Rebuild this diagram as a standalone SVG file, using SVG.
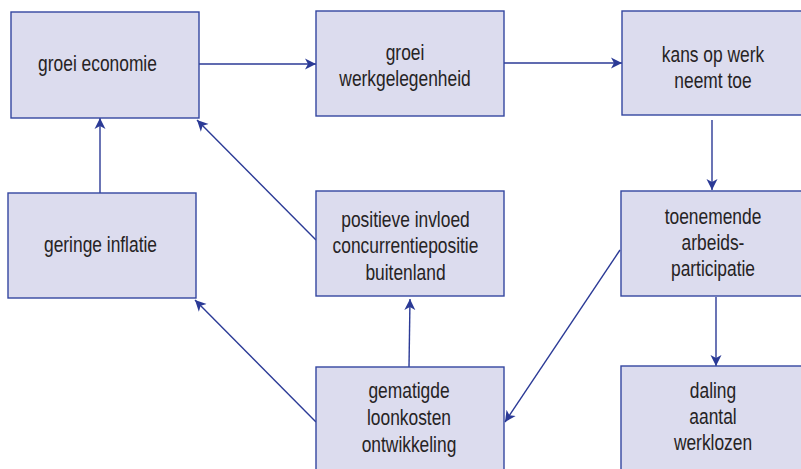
<svg xmlns="http://www.w3.org/2000/svg" width="801" height="469" viewBox="0 0 801 469">
<defs>
<style>
.box{fill:#dcdcee;stroke:#3446a0;stroke-width:1.4}
.lbl{font-family:"Liberation Sans",Arial,sans-serif;font-size:22px;fill:#262324;text-anchor:middle}
.con{stroke:#2b3a96;stroke-width:1.4;fill:none;marker-end:url(#ah)}
</style>
<marker id="ah" viewBox="0 0 12 12" refX="11" refY="6" markerWidth="12" markerHeight="12" markerUnits="userSpaceOnUse" orient="auto">
<path d="M0,0.5 L11,6 L0,11.5 L3,6 z" fill="#2b3a96"/>
</marker>
</defs>
<rect width="801" height="469" fill="#ffffff"/>
<g id="connectors">
<line class="con" x1="199" y1="64" x2="316" y2="64"/>
<line class="con" x1="504" y1="63" x2="622" y2="63"/>
<line class="con" x1="712" y1="120" x2="712" y2="190"/>
<line class="con" x1="716" y1="297" x2="716" y2="366"/>
<line class="con" x1="620" y1="250" x2="505" y2="422"/>
<line class="con" x1="409" y1="367" x2="410" y2="299"/>
<line class="con" x1="316" y1="422" x2="195" y2="300"/>
<line class="con" x1="316" y1="240" x2="197" y2="120"/>
<line class="con" x1="100" y1="193" x2="100" y2="118"/>
</g>
<g id="n-groei-economie">
<rect class="box" x="11" y="12" width="188" height="106"/>
<text class="lbl" transform="translate(97.5,0) scale(0.79,1)"><tspan x="0" y="71.5">groei economie</tspan></text>
</g>
<g id="n-groei-werkgelegenheid">
<rect class="box" x="316" y="11" width="188" height="105"/>
<text class="lbl" transform="translate(405,0) scale(0.79,1)"><tspan x="0" y="60">groei</tspan><tspan x="0" y="86.5">werkgelegenheid</tspan></text>
</g>
<g id="n-kans-op-werk">
<rect class="box" x="622" y="11" width="190" height="104"/>
<text class="lbl" transform="translate(713,0) scale(0.79,1)"><tspan x="0" y="62">kans op werk</tspan><tspan x="0" y="88.5">neemt toe</tspan></text>
</g>
<g id="n-toenemende">
<rect class="box" x="621" y="191" width="190" height="105"/>
<text class="lbl" transform="translate(713,0) scale(0.79,1)"><tspan x="0" y="224">toenemende</tspan><tspan x="0" y="250.5">arbeids-</tspan><tspan x="0" y="276.5">participatie</tspan></text>
</g>
<g id="n-daling">
<rect class="box" x="621" y="366" width="190" height="110"/>
<text class="lbl" transform="translate(713,0) scale(0.79,1)"><tspan x="0" y="398">daling</tspan><tspan x="0" y="424.5">aantal</tspan><tspan x="0" y="450.5">werklozen</tspan></text>
</g>
<g id="n-positieve">
<rect class="box" x="316" y="191" width="188" height="105"/>
<text class="lbl" transform="translate(405.5,0) scale(0.79,1)"><tspan x="0" y="227">positieve invloed</tspan><tspan x="0" y="253.5">concurrentiepositie</tspan><tspan x="0" y="280">buitenland</tspan></text>
</g>
<g id="n-gematigde">
<rect class="box" x="316" y="367" width="188" height="110"/>
<text class="lbl" transform="translate(409,0) scale(0.79,1)"><tspan x="0" y="398">gematigde</tspan><tspan x="0" y="425.5">loonkosten</tspan><tspan x="0" y="452">ontwikkeling</tspan></text>
</g>
<g id="n-geringe-inflatie">
<rect class="box" x="8" y="193" width="188" height="105"/>
<text class="lbl" transform="translate(100.5,0) scale(0.79,1)"><tspan x="0" y="252">geringe inflatie</tspan></text>
</g>
</svg>
